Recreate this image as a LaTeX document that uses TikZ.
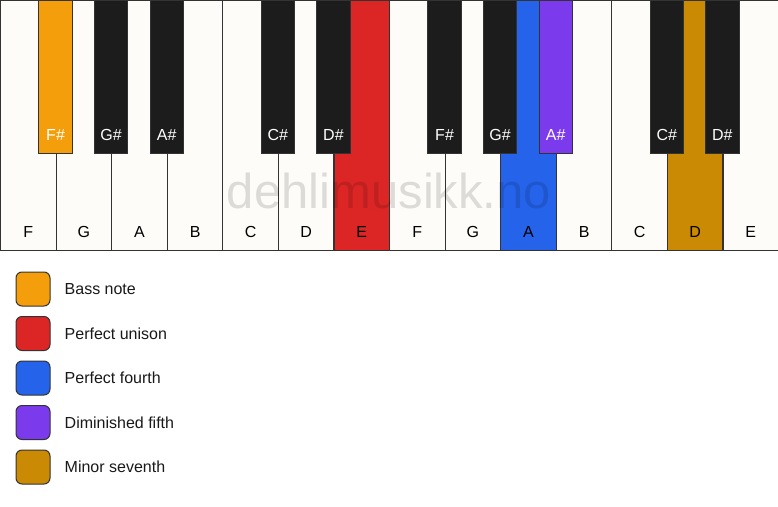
\documentclass[tikz,border=0pt]{standalone}
\usepackage{fontspec}
\setmainfont{Liberation Sans}
\usetikzlibrary{positioning}

\definecolor{keywhite}{HTML}{FDFCF9}
\definecolor{keyblack}{HTML}{1C1C1C}
\definecolor{keyline}{HTML}{333333}
\definecolor{bassnote}{HTML}{F59E0B}
\definecolor{unison}{HTML}{DC2626}
\definecolor{fourth}{HTML}{2563EB}
\definecolor{dimfifth}{HTML}{7C3AED}
\definecolor{minseventh}{HTML}{CA8A04}

\tikzset{
  whitekey/.style={draw=keyline, line width=1.2pt, minimum width=55.57pt,
    minimum height=250pt, inner sep=0pt, anchor=north west},
  blackkey/.style={draw=keyline, line width=1pt, minimum width=33.3pt,
    minimum height=153pt, inner sep=0pt, anchor=north},
  keyname/.style={anchor=base, font=\fontsize{16}{18}\selectfont},
  legendbox/.style={draw=keyline, line width=1pt, rounded corners=6pt,
    minimum size=34pt, inner sep=0pt},
  legendtext/.style={anchor=west, inner sep=0pt, text=black!90,
    font=\fontsize{16}{18}\selectfont}
}

\begin{document}
\begin{tikzpicture}[x=1pt, y=-1pt]
  \useasboundingbox [fill=white] (0,0) rectangle (778,506);

  % white keys
  \foreach \n/\c [count=\i from 0] in {F/keywhite, G/keywhite, A/keywhite,
      B/keywhite, C/keywhite, D/keywhite, E/unison, F/keywhite, G/keywhite,
      A/fourth, B/keywhite, C/keywhite, D/minseventh, E/keywhite} {
    \node [whitekey, fill=\c] (w\i) at (\i*55.57,0) {};
    \node [keyname] at ([yshift=13.5pt]w\i.south) {\n};
  }

  % black keys
  \foreach \b/\n/\c in {1/F/bassnote, 2/G/keyblack, 3/A/keyblack,
      5/C/keyblack, 6/D/keyblack, 8/F/keyblack, 9/G/keyblack,
      10/A/dimfifth, 12/C/keyblack, 13/D/keyblack} {
    \node [blackkey, fill=\c] (b\b) at (\b*55.57,0) {};
    \node [keyname, text=white] at ([yshift=14pt]b\b.south) {\n\#};
  }

  % watermark
  \node [anchor=base, text=black, opacity=0.13, inner sep=0pt,
    font=\fontsize{49}{50}\selectfont] (mark) at (389,208) {dehlimusikk.no};

  % legend
  \node [legendbox, fill=bassnote]   (lg1) at (33,289) {};
  \node [legendbox, fill=unison]     (lg2) at (33,333.5) {};
  \node [legendbox, fill=fourth]     (lg3) at (33,378) {};
  \node [legendbox, fill=dimfifth]   (lg4) at (33,422.5) {};
  \node [legendbox, fill=minseventh] (lg5) at (33,467) {};
  \node [legendtext, right=14pt of lg1] (lt1) {Bass note};
  \node [legendtext, right=14pt of lg2] (lt2) {Perfect unison};
  \node [legendtext, right=14pt of lg3] (lt3) {Perfect fourth};
  \node [legendtext, right=14pt of lg4] (lt4) {Diminished fifth};
  \node [legendtext, right=14pt of lg5] (lt5) {Minor seventh};
\end{tikzpicture}
\end{document}
